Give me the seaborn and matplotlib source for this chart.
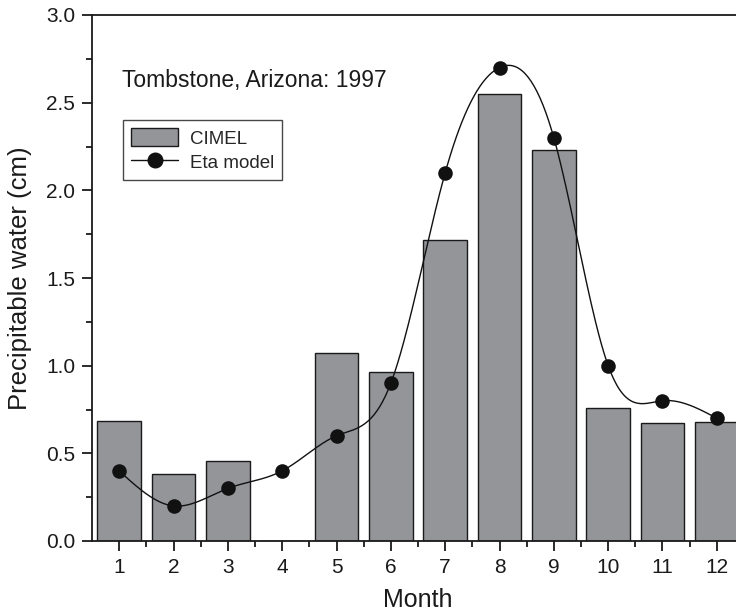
import numpy as np
import pandas as pd
import matplotlib
matplotlib.use("Agg")
import matplotlib.pyplot as plt
import seaborn as sns
from matplotlib.patches import Patch
from matplotlib.lines import Line2D
from matplotlib.ticker import MultipleLocator

months = [1, 2, 3, 4, 5, 6, 7, 8, 9, 10, 11, 12]
cimel = [0.684, 0.38, 0.456, 0.0, 1.074, 0.966, 1.716, 2.55, 2.23, 0.76, 0.672, 0.678]
eta = [0.4, 0.2, 0.3, 0.4, 0.6, 0.9, 2.1, 2.7, 2.3, 1.0, 0.8, 0.7]

sns.set_theme(style="ticks")
plt.rcParams['font.family'] = ['Liberation Sans', 'DejaVu Sans']

df = pd.DataFrame({"Month": months, "CIMEL": cimel, "Eta": eta})

fig = plt.figure(figsize=(7.36, 6.11), dpi=100)
W, H = 736, 611
left, right, top, bottom = 92, 744, 15, 541
ax = fig.add_axes([left / W, 1 - bottom / H, (right - left) / W, (bottom - top) / H])

sns.barplot(data=df, x="Month", y="CIMEL", color="#939598", saturation=1,
            edgecolor="#1a1a1a", linewidth=1.0, width=0.8, ax=ax)
for p in ax.patches:
    p.set_facecolor("#939598")


def natural_spline(xs, ys, n=400):
    xs = np.asarray(xs, float)
    ys = np.asarray(ys, float)
    k = len(xs)
    h = np.diff(xs)
    A = np.zeros((k, k))
    b = np.zeros(k)
    A[0, 0] = A[-1, -1] = 1
    for i in range(1, k - 1):
        A[i, i - 1] = h[i - 1]
        A[i, i] = 2 * (h[i - 1] + h[i])
        A[i, i + 1] = h[i]
        b[i] = 3 * ((ys[i + 1] - ys[i]) / h[i] - (ys[i] - ys[i - 1]) / h[i - 1])
    c = np.linalg.solve(A, b)
    xf = np.linspace(xs[0], xs[-1], n)
    idx = np.clip(np.searchsorted(xs, xf) - 1, 0, k - 2)
    dx = xf - xs[idx]
    bb = (ys[idx + 1] - ys[idx]) / h[idx] - h[idx] * (2 * c[idx] + c[idx + 1]) / 3
    d = (c[idx + 1] - c[idx]) / (3 * h[idx])
    yf = ys[idx] + bb * dx + c[idx] * dx ** 2 + d * dx ** 3
    return xf, yf


pos = np.arange(len(months))
xf, yf = natural_spline(pos, eta)
ax.plot(xf, yf, color="#111111", lw=1.0, zorder=3)
sns.scatterplot(x=pos, y=eta, color="#111111", s=110, edgecolor="#111111",
                linewidth=0, zorder=4, ax=ax, legend=False)

ax.set_xlim(-0.5, 11.5)
ax.set_ylim(0, 3.0)
ax.set_xticks(pos)
ax.set_xticklabels([str(m) for m in months])
ax.set_xticks(pos[:-1] + 0.5, minor=True)
ax.set_yticks(np.arange(0, 3.01, 0.5))
ax.set_yticklabels([f"{v:.1f}" for v in np.arange(0, 3.01, 0.5)])
ax.yaxis.set_minor_locator(MultipleLocator(0.25))

for s in ax.spines.values():
    s.set_linewidth(1.3)
    s.set_color("#1a1a1a")
ax.tick_params(axis="both", which="major", direction="out", length=7, width=1.3,
               labelsize=15, color="#1a1a1a", labelcolor="#1a1a1a", pad=5)
ax.tick_params(axis="both", which="minor", direction="out", length=4, width=1.3,
               color="#1a1a1a")

ax.set_xlabel("Month", fontsize=18, color="#1a1a1a", labelpad=8)
ax.set_ylabel("Precipitable water (cm)", fontsize=18.5, color="#1a1a1a", labelpad=10)

fig.text(122 / W, 1 - 80 / H, "Tombstone, Arizona: 1997", fontsize=16.5,
         color="#1a1a1a", va="center", ha="left")

handles = [Patch(facecolor="#939598", edgecolor="#1a1a1a", linewidth=1.0),
           Line2D([0], [0], color="#111111", lw=1.0, marker="o", markersize=10.5)]
leg = ax.legend(handles, ["CIMEL", "Eta model"], loc="upper left",
                bbox_to_anchor=((123 - left) / (right - left), 1 - (120 - top) / (bottom - top)),
                frameon=True, fancybox=False, edgecolor="#1a1a1a", fontsize=13.5,
                handlelength=2.5, handleheight=1.1, borderpad=0.45, labelspacing=0.25,
                handletextpad=0.6, borderaxespad=0)
leg.get_frame().set_linewidth(1.0)

fig.savefig("out.png", dpi=100)
